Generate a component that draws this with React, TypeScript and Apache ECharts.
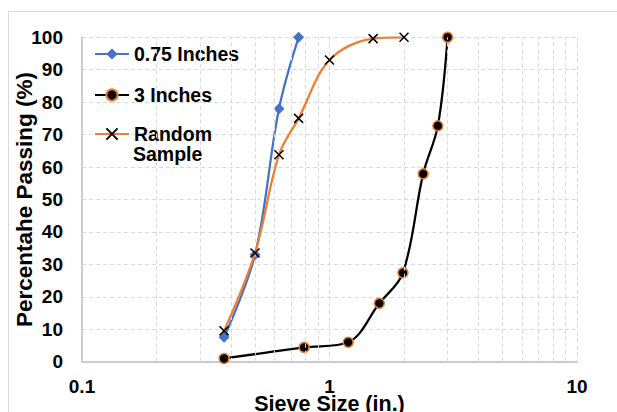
import React, { useEffect, useRef } from 'react';
import * as echarts from 'echarts';

const sizes075 = [0.375, 0.5, 0.625, 0.75];
const pass075 = [7.5, 33, 78, 100];

const sizes3in = [0.375, 0.79, 1.19, 1.59, 1.98, 2.39, 2.74, 3.0];
const pass3in = [1, 4.4, 6, 18, 27.4, 57.9, 72.7, 100];

const sizesRandom = [0.375, 0.5, 0.625, 0.75, 1.0, 1.5, 2.0];
const passRandom = [9.5, 33.5, 63.8, 75, 93, 99.6, 100];

const minorGridX = [0.2, 0.3, 0.4, 0.5, 0.6, 0.7, 0.8, 0.9, 2, 3, 4, 5, 6, 7, 8, 9];

const seriesNames = ['0.75 Inches', '3 Inches', 'Random Sample'];

const FONT = '"Liberation Sans", Arial, sans-serif';
const BLUE = '#4472C4';
const ORANGE = '#ED7D31';
const GRID = '#d9d9d9';

const pairs = (xs: number[], ys: number[]) => xs.map((x, i) => [x, ys[i]]);

export default function App() {
  const ref = useRef<HTMLDivElement>(null);
  useEffect(() => {
    if (!ref.current) return;
    const chart = echarts.init(ref.current, null, { renderer: 'svg' });
    const legendText = { fontFamily: FONT, fontSize: 19.5, fontWeight: 'bold', color: '#000', lineHeight: 22 };
    chart.setOption({
      animation: false,
      backgroundColor: '#fff',
      textStyle: { fontFamily: FONT },
      graphic: [
        {
          type: 'rect',
          z: -10,
          silent: true,
          shape: { x: 8.5, y: 11.5, width: 700, height: 500 },
          style: { fill: 'none', stroke: GRID, lineWidth: 1 },
        },
        {
          type: 'text',
          z: 10,
          silent: true,
          left: 133,
          top: 144,
          style: {
            text: 'Sample',
            font: `bold 19.5px ${FONT}`,
            fill: '#000',
          },
        },
      ],
      grid: {
        left: 82,
        right: 40,
        top: 37.3,
        bottom: 50.3,
        containLabel: false,
        outerBoundsMode: 'none',
      },
      legend: [
        {
          orient: 'vertical',
          left: 94,
          top: 43,
          padding: 0,
          itemGap: 19,
          itemWidth: 34,
          itemHeight: 14,
          data: [seriesNames[0], seriesNames[1]],
          textStyle: legendText,
        },
        {
          orient: 'vertical',
          left: 94,
          top: 123,
          padding: 0,
          itemWidth: 34,
          itemHeight: 14,
          data: [seriesNames[2]],
          formatter: () => 'Random',
          textStyle: legendText,
        },
      ],
      xAxis: {
        type: 'log',
        logBase: 10,
        min: 0.1,
        max: 10,
        name: 'Sieve Size (in.)',
        nameLocation: 'middle',
        nameGap: 31,
        nameMoveOverlap: false,
        nameTextStyle: { fontFamily: FONT, fontSize: 21.5, fontWeight: 'bold', color: '#000' },
        axisLine: { show: true, onZero: false, lineStyle: { color: '#cccccc', width: 2 } },
        axisTick: { show: false },
        axisLabel: { fontFamily: FONT, fontSize: 19, fontWeight: 'bold', color: '#000', margin: 15 },
        splitLine: { show: true, lineStyle: { color: GRID, type: [4, 3], width: 1 } },
      },
      yAxis: {
        type: 'value',
        min: 0,
        max: 100,
        interval: 10,
        name: 'Percentahe Passing (%)',
        nameLocation: 'middle',
        nameGap: 46,
        nameMoveOverlap: false,
        nameRotate: 90,
        nameTextStyle: { fontFamily: FONT, fontSize: 22.5, fontWeight: 'bold', color: '#000' },
        axisLine: { show: true, lineStyle: { color: '#cccccc', width: 2 } },
        axisTick: { show: false },
        axisLabel: { fontFamily: FONT, fontSize: 19, fontWeight: 'bold', color: '#000', margin: 19 },
        splitLine: { show: true, lineStyle: { color: GRID, type: [4, 3], width: 1 } },
      },
      series: [
        {
          name: 'minor-grid',
          type: 'line',
          data: [],
          z: 0,
          silent: true,
          markLine: {
            silent: true,
            symbol: ['none', 'none'],
            label: { show: false },
            lineStyle: { color: GRID, type: [4, 3], width: 1 },
            emphasis: { disabled: true },
            data: minorGridX.map((v) => ({ xAxis: v })),
          },
        },
        {
          name: seriesNames[0],
          type: 'line',
          smooth: 0.35,
          data: pairs(sizes075, pass075),
          symbol: 'diamond',
          symbolSize: 11,
          itemStyle: { color: BLUE },
          lineStyle: { color: BLUE, width: 2.25 },
          z: 3,
        },
        {
          name: seriesNames[1],
          type: 'line',
          smooth: 0.35,
          data: pairs(sizes3in, pass3in),
          symbol: 'circle',
          symbolSize: 10,
          itemStyle: { color: '#000', borderColor: ORANGE, borderWidth: 1.5 },
          lineStyle: { color: '#000', width: 2.25 },
          z: 4,
        },
        {
          name: seriesNames[2],
          type: 'line',
          smooth: 0.35,
          data: pairs(sizesRandom, passRandom),
          symbol: 'path://M0,0L10,10M10,0L0,10',
          symbolSize: 9,
          itemStyle: { color: 'rgba(0,0,0,0)', borderColor: '#000', borderWidth: 1.5 },
          lineStyle: { color: ORANGE, width: 2.25 },
          z: 5,
        },
      ],
    });
    return () => chart.dispose();
  }, []);
  return (
    <div
      ref={ref}
      style={{ position: 'fixed', left: 0, top: 0, width: 617, height: 412, background: '#fff' }}
    />
  );
}
